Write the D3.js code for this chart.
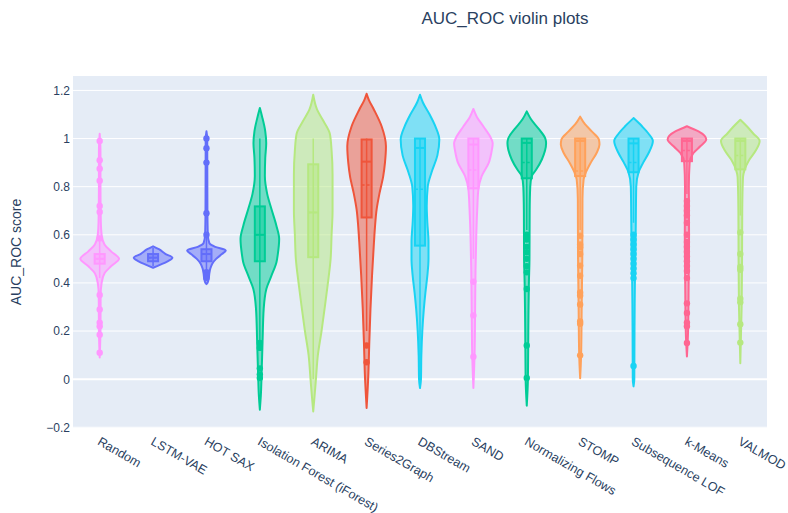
<!DOCTYPE html>
<html>
<head>
<meta charset="utf-8">
<script src="https://cdn.jsdelivr.net/npm/d3@7"></script>
<style>
  body { margin: 0; background: #fff; }
  text { font-family: "Liberation Sans", Arial, sans-serif; fill: #2a3f5f; }
</style>
</head>
<body>
<div id="chart"></div>
<script>
// Chart data.
const categories = ["Random", "LSTM-VAE", "HOT SAX", "Isolation Forest (iForest)", "ARIMA",
  "Series2Graph", "DBStream", "SAND", "Normalizing Flows", "STOMP", "Subsequence LOF",
  "k-Means", "VALMOD"];

const colors = ["#FF97FF", "#636EFA", "#636EFA", "#00CC96", "#B6E880", "#EF553B", "#19D3F3",
  "#FF97FF", "#00CC96", "#FFA15A", "#19D3F3", "#FF6692", "#B6E880"];

// Violin outlines: [score, relative half width], top to bottom.
const violinProfiles = [
  [[1.02, 0], [0.95, 0.04], [0.8, 0.04], [0.65, 0.06], [0.6, 0.1], [0.56, 0.25], [0.53, 0.6],
   [0.5, 1.0], [0.47, 0.6], [0.44, 0.25], [0.4, 0.1], [0.35, 0.05], [0.2, 0.04], [0.09, 0]],
  [[0.552, 0], [0.54, 0.3], [0.52, 0.65], [0.505, 1.0], [0.49, 0.75], [0.475, 0.35], [0.463, 0]],
  [[1.03, 0], [1.0, 0.04], [0.7, 0.05], [0.6, 0.07], [0.565, 0.15], [0.55, 0.45], [0.535, 1.0],
   [0.52, 0.8], [0.5, 0.5], [0.48, 0.3], [0.46, 0.2], [0.44, 0.15], [0.42, 0.12], [0.4, 0.05], [0.395, 0]],
  [[1.127, 0], [1.09, 0.12], [1.03, 0.28], [0.98, 0.33], [0.92, 0.28], [0.844, 0.26], [0.77, 0.38],
   [0.707, 0.6], [0.64, 0.85], [0.583, 1.0], [0.52, 0.93], [0.486, 0.86], [0.43, 0.6], [0.376, 0.34],
   [0.293, 0.2], [0.156, 0.14], [0.02, 0.09], [-0.07, 0.05], [-0.127, 0]],
  [[1.182, 0], [1.12, 0.2], [1.07, 0.55], [1.02, 0.86], [0.95, 0.95], [0.85, 1.0], [0.7, 1.0],
   [0.6, 0.95], [0.5, 0.9], [0.4, 0.76], [0.3, 0.6], [0.2, 0.43], [0.1, 0.24], [0.0, 0.14],
   [-0.07, 0.07], [-0.134, 0]],
  [[1.186, 0], [1.16, 0.12], [1.12, 0.38], [1.05, 0.78], [0.968, 1.0], [0.9, 0.95], [0.844, 0.86],
   [0.77, 0.66], [0.707, 0.52], [0.63, 0.43], [0.569, 0.38], [0.43, 0.28], [0.293, 0.2],
   [0.156, 0.14], [0.02, 0.09], [-0.12, 0]],
  [[1.182, 0], [1.15, 0.15], [1.1, 0.5], [1.05, 0.8], [0.996, 1.0], [0.93, 0.9], [0.86, 0.6],
   [0.8, 0.4], [0.72, 0.35], [0.65, 0.38], [0.57, 0.44], [0.5, 0.44], [0.43, 0.38], [0.36, 0.28],
   [0.293, 0.2], [0.2, 0.12], [0.1, 0.07], [0.0, 0.05], [-0.037, 0]],
  [[1.123, 0], [1.09, 0.18], [1.05, 0.52], [1.0, 0.92], [0.98, 1.0], [0.95, 0.95], [0.9, 0.8],
   [0.844, 0.43], [0.79, 0.26], [0.707, 0.2], [0.6, 0.15], [0.45, 0.11], [0.3, 0.09],
   [0.1, 0.06], [-0.037, 0]],
  [[1.113, 0], [1.08, 0.22], [1.04, 0.62], [1.0, 0.96], [0.98, 1.0], [0.913, 0.78], [0.87, 0.48],
   [0.844, 0.26], [0.8, 0.18], [0.7, 0.15], [0.5, 0.14], [0.4, 0.11], [0.2, 0.08], [0.0, 0.06],
   [-0.11, 0]],
  [[1.091, 0], [1.06, 0.25], [1.03, 0.6], [0.996, 0.97], [0.975, 1.0], [0.94, 0.85], [0.9, 0.55],
   [0.86, 0.3], [0.83, 0.18], [0.75, 0.12], [0.5, 0.11], [0.3, 0.08], [0.1, 0.05], [0.004, 0]],
  [[1.085, 0], [1.05, 0.45], [1.02, 0.78], [0.99, 1.0], [0.94, 0.78], [0.9, 0.5], [0.86, 0.26],
   [0.8, 0.14], [0.6, 0.11], [0.4, 0.07], [0.2, 0.05], [0.0, 0.04], [-0.03, 0]],
  [[1.051, 0], [1.045, 0.17], [1.03, 0.6], [0.996, 1.0], [0.968, 0.69], [0.94, 0.34], [0.9, 0.14],
   [0.8, 0.1], [0.6, 0.11], [0.4, 0.09], [0.2, 0.06], [0.094, 0]],
  [[1.078, 0], [1.05, 0.35], [1.02, 0.68], [0.99, 1.0], [0.95, 0.8], [0.91, 0.45], [0.87, 0.22],
   [0.84, 0.14], [0.7, 0.1], [0.5, 0.09], [0.3, 0.07], [0.066, 0]]
];

// Inner box statistics.
const q1 = [0.48, 0.49, 0.49, 0.49, 0.507, 0.672, 0.555, 0.793, 0.835, 0.844, 0.86, 0.906, 0.872];
const medians = [0.5, 0.505, 0.52, 0.6, 0.693, 0.904, 0.961, 0.975, 0.982, 0.99, 0.98, 0.99, 0.99];
const q3 = [0.52, 0.52, 0.54, 0.718, 0.893, 0.996, 1.0, 1.0, 1.0, 1.0, 1.0, 1.0, 1.0];
const means = [0.5, 0.505, 0.52, 0.6, 0.693, 0.807, 0.789, 0.869, 0.9, 0.865, 0.9, 0.95, 0.93];
const whiskerLo = [0.42, 0.47, 0.45, 0.16, 0.0, 0.2, 0.0, 0.5, 0.62, 0.62, 0.65, 0.77, 0.68];
const whiskerHi = [0.58, 0.545, 0.6, 1.0, 1.0, 1.0, 1.0, 1.0, 1.0, 1.0, 1.0, 1.0, 1.0];

// Outlier points.
const outliers = [
  [0.99, 0.91, 0.875, 0.825, 0.72, 0.695, 0.585, 0.35, 0.29, 0.235, 0.22, 0.185, 0.11],
  [],
  [1.0, 0.96, 0.9, 0.69, 0.6, 0.445, 0.43, 0.42],
  [0.15, 0.13, 0.045, 0.02, 0.005],
  [],
  [0.14, 0.07],
  [],
  [0.405, 0.265, 0.093],
  [0.6, 0.58, 0.55, 0.527, 0.5, 0.47, 0.444, 0.375, 0.14, 0.005],
  [0.596, 0.56, 0.548, 0.52, 0.472, 0.43, 0.36, 0.348, 0.31, 0.24, 0.23, 0.099],
  [0.6, 0.58, 0.56, 0.54, 0.52, 0.5, 0.48, 0.46, 0.44, 0.42, 0.055],
  [0.74, 0.72, 0.7, 0.68, 0.65, 0.6, 0.57, 0.55, 0.53, 0.51, 0.49, 0.47, 0.45, 0.42, 0.315,
   0.275, 0.235, 0.22, 0.15],
  [0.61, 0.52, 0.466, 0.455, 0.334, 0.32, 0.228, 0.152]
];

const yTicks = [-0.2, 0, 0.2, 0.4, 0.6, 0.8, 1, 1.2];

// Layout.
const width = 788;
const height = 513;
const margin = {top: 76, right: 21, bottom: 85, left: 73};
const plotW = width - margin.left - margin.right;
const plotH = height - margin.top - margin.bottom;

const svg = d3.select("#chart").append("svg")
  .attr("width", width)
  .attr("height", height);

const x = d3.scaleBand()
  .domain(categories)
  .range([margin.left, margin.left + plotW])
  .padding(0);

const y = d3.scaleLinear()
  .domain([-0.203, 1.26])
  .range([margin.top + plotH, margin.top]);

const halfW = d3.scaleLinear()
  .domain([0, 1])
  .range([0, x.bandwidth() * 0.362]);

// Plot background.
svg.append("rect")
  .attr("x", margin.left)
  .attr("y", margin.top)
  .attr("width", plotW)
  .attr("height", plotH)
  .attr("fill", "#E5ECF6");

// Grid lines.
svg.append("g")
  .selectAll("line")
  .data(yTicks)
  .join("line")
  .attr("x1", margin.left)
  .attr("x2", margin.left + plotW)
  .attr("y1", d => y(d))
  .attr("y2", d => y(d))
  .attr("stroke", "#fff")
  .attr("stroke-width", d => d === 0 ? 2 : 1);

// Y axis labels.
const yAxis = d3.axisLeft(y)
  .tickValues(yTicks)
  .tickFormat(d => d === 0 ? "0" : d3.format("~g")(d).replace("-", "\u2212"))
  .tickSize(0)
  .tickPadding(3);

svg.append("g")
  .attr("transform", "translate(" + margin.left + ",0)")
  .call(yAxis)
  .call(g => g.select(".domain").remove())
  .selectAll("text")
  .attr("font-size", 12)
  .attr("fill", "#2a3f5f")
  .style("font-family", "'Liberation Sans', Arial, sans-serif");

// X axis labels, rotated.
const xAxis = d3.axisBottom(x).tickSize(0).tickPadding(0);
svg.append("g")
  .attr("transform", "translate(0," + (margin.top + plotH) + ")")
  .call(xAxis)
  .call(g => g.select(".domain").remove())
  .selectAll("text")
  .attr("font-size", 12.6)
  .attr("fill", "#2a3f5f")
  .style("font-family", "'Liberation Sans', Arial, sans-serif")
  .attr("text-anchor", "start")
  .attr("dy", null)
  .attr("y", 0)
  .attr("transform", "translate(-3,16) rotate(30)");

// Violins.
const violins = svg.append("g");

categories.forEach(function(cat, i) {
  const cx = x(cat) + x.bandwidth() / 2;
  const color = colors[i];
  const g = violins.append("g");

  const area = d3.area()
    .y(d => y(d[0]))
    .x0(d => cx - halfW(d[1]))
    .x1(d => cx + halfW(d[1]))
    .curve(d3.curveMonotoneY);

  g.append("path")
    .datum(violinProfiles[i])
    .attr("d", area)
    .attr("fill", color)
    .attr("fill-opacity", 0.5)
    .attr("stroke", color)
    .attr("stroke-width", 2)
    .attr("stroke-linejoin", "round");

  // Whisker.
  g.append("line")
    .attr("x1", cx).attr("x2", cx)
    .attr("y1", y(whiskerLo[i]))
    .attr("y2", y(whiskerHi[i]))
    .attr("stroke", color)
    .attr("stroke-width", 1.5);

  // Box.
  const boxW = halfW(0.26);
  g.append("rect")
    .attr("x", cx - boxW)
    .attr("y", y(q3[i]))
    .attr("width", boxW * 2)
    .attr("height", y(q1[i]) - y(q3[i]))
    .attr("fill", color)
    .attr("fill-opacity", 0.5)
    .attr("stroke", color)
    .attr("stroke-width", 2);

  g.append("line")
    .attr("x1", cx - boxW).attr("x2", cx + boxW)
    .attr("y1", y(medians[i])).attr("y2", y(medians[i]))
    .attr("stroke", color)
    .attr("stroke-width", 2);

  g.append("line")
    .attr("x1", cx - boxW).attr("x2", cx + boxW)
    .attr("y1", y(means[i])).attr("y2", y(means[i]))
    .attr("stroke", color)
    .attr("stroke-width", 1.5)
    .attr("stroke-dasharray", "3,2");

  // Points.
  g.selectAll("circle")
    .data(outliers[i])
    .join("circle")
    .attr("cx", cx)
    .attr("cy", d => y(d))
    .attr("r", 3.2)
    .attr("fill", color);
});

// Title.
svg.append("text")
  .attr("x", 505)
  .attr("y", 24)
  .attr("text-anchor", "middle")
  .attr("font-size", 17)
  .text("AUC_ROC violin plots");

// Y axis title.
svg.append("text")
  .attr("transform", "translate(21," + (margin.top + plotH / 2) + ") rotate(-90)")
  .attr("text-anchor", "middle")
  .attr("font-size", 14)
  .text("AUC_ROC score");
</script>
</body>
</html>
